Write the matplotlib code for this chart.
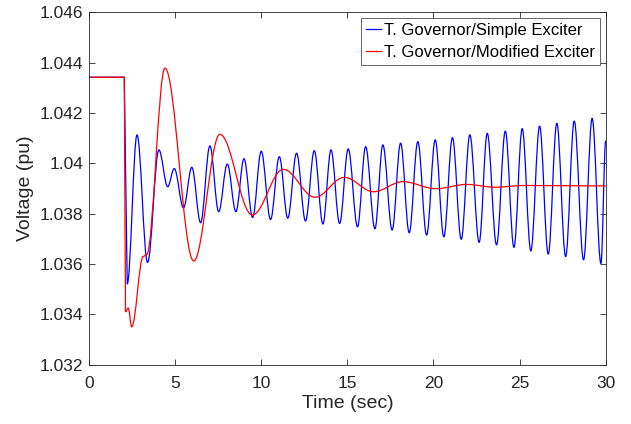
import matplotlib
matplotlib.use('Agg')
import matplotlib.pyplot as plt
from matplotlib.path import Path
from matplotlib.patches import PathPatch
from matplotlib.lines import Line2D

plt.rcParams['font.family'] = ['Liberation Sans', 'DejaVu Sans']

# pre-fault level and the drop (straight segments)
pre_t = [0.0, 2.05]
pre_v = [1.04342, 1.04342]

# T. Governor / Simple Exciter: turning points
blue_t = [2.22, 2.79, 3.40, 4.06, 4.57, 4.95, 5.49, 5.97, 6.48, 7.02,
          7.53, 8.03, 8.53, 9.00, 9.50, 10.00, 10.54, 11.05, 11.54, 12.05,
          12.57, 13.08, 13.58, 14.05, 14.55, 15.05, 15.59, 16.06, 16.60, 17.06,
          17.60, 18.09, 18.59, 19.09, 19.60, 20.10, 20.60, 21.10, 21.61, 22.11,
          22.65, 23.12, 23.66, 24.17, 24.67, 25.15, 25.65, 26.16, 26.66, 27.16,
          27.67, 28.17, 28.71, 29.21, 29.72, 30.00]
blue_v = [1.0352, 1.04113, 1.03606, 1.04053, 1.03907, 1.03979, 1.03823, 1.03984, 1.03764, 1.04069,
          1.03808, 1.03997, 1.03808, 1.04018, 1.03785, 1.04048, 1.03777, 1.04026, 1.03782, 1.0404,
          1.03771, 1.0405, 1.03759, 1.04053, 1.03761, 1.04057, 1.03748, 1.04066, 1.0374, 1.04073,
          1.03735, 1.0408, 1.03724, 1.04086, 1.03715, 1.04093, 1.03708, 1.04102, 1.03698, 1.04113,
          1.03686, 1.04119, 1.03676, 1.04128, 1.03666, 1.04138, 1.03652, 1.04148, 1.03639, 1.04159,
          1.03629, 1.04168, 1.03616, 1.04179, 1.03602, 1.0409]

# T. Governor / Modified Exciter
red_t = [2.12, 2.28, 2.48, 3.15, 3.35, 4.41, 6.08, 7.60, 9.48, 11.28,
         13.12, 14.82, 16.52, 18.22, 20.14, 21.92, 23.56, 25.3, 30.0]
red_v = [1.0341, 1.03425, 1.0335, 1.0363, 1.03638, 1.04378, 1.03612, 1.04115, 1.03795, 1.03976,
         1.03865, 1.03944, 1.03887, 1.03927, 1.03899, 1.03916, 1.03905, 1.03912, 1.0391]

labels = ['T. Governor/Simple Exciter', 'T. Governor/Modified Exciter']
yticks = [1.032, 1.034, 1.036, 1.038, 1.04, 1.042, 1.044, 1.046]
ytick_labels = ['1.032', '1.034', '1.036', '1.038', '1.04', '1.042', '1.044', '1.046']


def curve_path(t_lin, v_lin, t_ext, v_ext):
    # straight lines for the pre-fault part, then smooth curves
    # between turning points (flat tangent at each one)
    verts = list(zip(t_lin, v_lin))
    codes = [Path.MOVETO] + [Path.LINETO] * (len(t_lin) - 1)
    verts.append((t_ext[0], v_ext[0]))
    codes.append(Path.LINETO)
    k = 0.3642
    for i in range(1, len(t_ext)):
        t0, v0, t1, v1 = t_ext[i - 1], v_ext[i - 1], t_ext[i], v_ext[i]
        dt = t1 - t0
        verts += [(t0 + k * dt, v0), (t1 - k * dt, v1), (t1, v1)]
        codes += [Path.CURVE4] * 3
    return Path(verts, codes)


fig = plt.figure(figsize=(6.31, 4.24), dpi=100)
ax = fig.add_axes([0.141, 0.140, 0.819, 0.831])

ax.add_patch(PathPatch(curve_path(pre_t, pre_v, blue_t, blue_v),
                       fill=False, edgecolor='b', lw=0.9))
ax.add_patch(PathPatch(curve_path(pre_t, pre_v, red_t, red_v),
                       fill=False, edgecolor='r', lw=0.9))

ax.set_xlim(0, 30)
ax.set_ylim(1.032, 1.046)
ax.set_xticks([0, 5, 10, 15, 20, 25, 30])
ax.set_yticks(yticks)
ax.set_yticklabels(ytick_labels)
ax.tick_params(direction='in', top=True, right=True, labelsize=12.5,
               length=4, width=0.6, colors='0.15')
ax.tick_params(axis='x', pad=8)
ax.tick_params(axis='y', pad=4)
for sp in ax.spines.values():
    sp.set_linewidth(0.6)
    sp.set_color('0.15')
ax.set_xlabel('Time (sec)', fontsize=14, color='0.15', labelpad=3)
ax.set_ylabel('Voltage (pu)', fontsize=14, color='0.15', labelpad=4)

handles = [Line2D([], [], color='b', lw=0.9), Line2D([], [], color='r', lw=0.9)]
leg = ax.legend(handles, labels, loc='upper right', fontsize=12, fancybox=False,
                edgecolor='0.3', framealpha=1, handlelength=0.9, handletextpad=0.2,
                borderaxespad=0.35, borderpad=0.3, labelspacing=0.4)
leg.get_frame().set_linewidth(0.6)

fig.savefig('out.png', dpi=100)
